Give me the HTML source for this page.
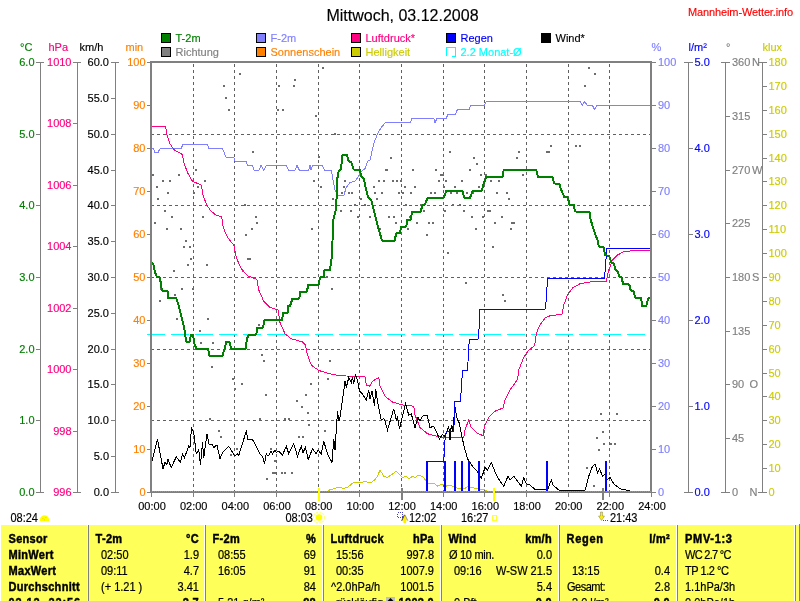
<!DOCTYPE html>
<html lang="de">
<head>
<meta charset="utf-8">
<title>Mannheim-Wetter.info - Mittwoch, 03.12.2008</title>
<style>
html,body{margin:0;padding:0;background:#fff;}
body{width:800px;height:601px;overflow:hidden;position:relative;font-family:'Liberation Sans',Arial,sans-serif;}
#chart{position:absolute;left:0;top:0;display:block;}
#chart text{white-space:pre;stroke-width:0.15px;}
#tbl{position:absolute;left:1px;top:525px;width:798px;height:76px;background:#ffff5a;overflow:hidden;}
#tblr{position:absolute;left:799px;top:524px;width:1px;height:77px;background:#808080;}
#tbl .sep{position:absolute;top:0;width:1px;height:76px;background:#fff;border-right:1px solid #808080;}
#tbl .c{position:absolute;font-size:11px;line-height:16px;height:16px;color:#000;white-space:pre;transform:scaleY(1.125);transform-origin:0 12px;}
#tbl .c{-webkit-text-stroke:0.2px #000;}
#tbl .ic{position:absolute;width:9px;height:9px;background:#c0c0c0;}
#tbl .ic u{position:absolute;left:2px;top:2px;width:5px;height:5px;background:#000;transform:rotate(45deg);}
#tbl .b{font-weight:bold;letter-spacing:0.3px;-webkit-text-stroke:0.4px #000;}
</style>
</head>
<body>
<svg id="chart" width="800" height="601" viewBox="0 0 800 601">
<rect x="0" y="0" width="800" height="601" fill="#fff"/>
<g stroke="#606060" stroke-width="1" stroke-dasharray="3 3" shape-rendering="crispEdges" fill="none">
<line x1="193.5" y1="64" x2="193.5" y2="491"/>
<line x1="234.5" y1="64" x2="234.5" y2="491"/>
<line x1="276.5" y1="64" x2="276.5" y2="491"/>
<line x1="318.5" y1="64" x2="318.5" y2="491"/>
<line x1="359.5" y1="64" x2="359.5" y2="491"/>
<line x1="401.5" y1="64" x2="401.5" y2="491"/>
<line x1="443.5" y1="64" x2="443.5" y2="491"/>
<line x1="484.5" y1="64" x2="484.5" y2="491"/>
<line x1="526.5" y1="64" x2="526.5" y2="491"/>
<line x1="568.5" y1="64" x2="568.5" y2="491"/>
<line x1="609.5" y1="64" x2="609.5" y2="491"/>
<line x1="151" y1="134.5" x2="651" y2="134.5"/>
<line x1="151" y1="205.5" x2="651" y2="205.5"/>
<line x1="151" y1="277.5" x2="651" y2="277.5"/>
<line x1="151" y1="349.5" x2="651" y2="349.5"/>
<line x1="151" y1="420.5" x2="651" y2="420.5"/>
</g>
<g fill="#6c6c6c" shape-rendering="crispEdges">
<rect x="239" y="73" width="2" height="2"/>
<rect x="322" y="67" width="2" height="2"/>
<rect x="223" y="85" width="2" height="2"/>
<rect x="225" y="97" width="2" height="2"/>
<rect x="228" y="109" width="2" height="2"/>
<rect x="278" y="85" width="2" height="2"/>
<rect x="294" y="79" width="2" height="2"/>
<rect x="293" y="85" width="2" height="2"/>
<rect x="277" y="109" width="2" height="2"/>
<rect x="282" y="109" width="2" height="2"/>
<rect x="315" y="115" width="2" height="2"/>
<rect x="334" y="133" width="2" height="2"/>
<rect x="252" y="151" width="2" height="2"/>
<rect x="318" y="156" width="2" height="2"/>
<rect x="195" y="169" width="2" height="2"/>
<rect x="152" y="174" width="2" height="2"/>
<rect x="178" y="174" width="2" height="2"/>
<rect x="162" y="180" width="2" height="2"/>
<rect x="169" y="180" width="2" height="2"/>
<rect x="204" y="180" width="2" height="2"/>
<rect x="313" y="180" width="2" height="2"/>
<rect x="344" y="180" width="2" height="2"/>
<rect x="156" y="186" width="2" height="2"/>
<rect x="197" y="186" width="2" height="2"/>
<rect x="320" y="186" width="2" height="2"/>
<rect x="343" y="186" width="2" height="2"/>
<rect x="167" y="192" width="2" height="2"/>
<rect x="193" y="192" width="2" height="2"/>
<rect x="341" y="192" width="2" height="2"/>
<rect x="348" y="192" width="2" height="2"/>
<rect x="157" y="198" width="2" height="2"/>
<rect x="332" y="198" width="2" height="2"/>
<rect x="244" y="204" width="2" height="2"/>
<rect x="449" y="151" width="2" height="2"/>
<rect x="390" y="157" width="2" height="2"/>
<rect x="473" y="157" width="2" height="2"/>
<rect x="518" y="151" width="2" height="2"/>
<rect x="516" y="157" width="2" height="2"/>
<rect x="476" y="163" width="2" height="2"/>
<rect x="385" y="169" width="2" height="2"/>
<rect x="386" y="169" width="2" height="2"/>
<rect x="412" y="169" width="2" height="2"/>
<rect x="435" y="169" width="2" height="2"/>
<rect x="469" y="169" width="2" height="2"/>
<rect x="440" y="174" width="2" height="2"/>
<rect x="442" y="174" width="2" height="2"/>
<rect x="480" y="174" width="2" height="2"/>
<rect x="485" y="174" width="2" height="2"/>
<rect x="522" y="174" width="2" height="2"/>
<rect x="378" y="180" width="2" height="2"/>
<rect x="383" y="180" width="2" height="2"/>
<rect x="392" y="180" width="2" height="2"/>
<rect x="396" y="180" width="2" height="2"/>
<rect x="400" y="180" width="2" height="2"/>
<rect x="438" y="180" width="2" height="2"/>
<rect x="445" y="180" width="2" height="2"/>
<rect x="461" y="180" width="2" height="2"/>
<rect x="490" y="180" width="2" height="2"/>
<rect x="498" y="180" width="2" height="2"/>
<rect x="373" y="186" width="2" height="2"/>
<rect x="404" y="186" width="2" height="2"/>
<rect x="414" y="186" width="2" height="2"/>
<rect x="443" y="186" width="2" height="2"/>
<rect x="454" y="186" width="2" height="2"/>
<rect x="478" y="186" width="2" height="2"/>
<rect x="351" y="192" width="2" height="2"/>
<rect x="374" y="192" width="2" height="2"/>
<rect x="381" y="192" width="2" height="2"/>
<rect x="398" y="192" width="2" height="2"/>
<rect x="402" y="192" width="2" height="2"/>
<rect x="410" y="192" width="2" height="2"/>
<rect x="430" y="192" width="2" height="2"/>
<rect x="434" y="192" width="2" height="2"/>
<rect x="450" y="192" width="2" height="2"/>
<rect x="456" y="192" width="2" height="2"/>
<rect x="466" y="192" width="2" height="2"/>
<rect x="472" y="192" width="2" height="2"/>
<rect x="496" y="192" width="2" height="2"/>
<rect x="506" y="192" width="2" height="2"/>
<rect x="360" y="198" width="2" height="2"/>
<rect x="376" y="198" width="2" height="2"/>
<rect x="508" y="198" width="2" height="2"/>
<rect x="354" y="204" width="2" height="2"/>
<rect x="364" y="204" width="2" height="2"/>
<rect x="405" y="204" width="2" height="2"/>
<rect x="452" y="204" width="2" height="2"/>
<rect x="459" y="204" width="2" height="2"/>
<rect x="588" y="67" width="2" height="2"/>
<rect x="594" y="73" width="2" height="2"/>
<rect x="584" y="85" width="2" height="2"/>
<rect x="550" y="145" width="2" height="2"/>
<rect x="575" y="145" width="2" height="2"/>
<rect x="579" y="145" width="2" height="2"/>
<rect x="546" y="151" width="2" height="2"/>
<rect x="548" y="151" width="2" height="2"/>
<rect x="164" y="210" width="2" height="2"/>
<rect x="340" y="210" width="2" height="2"/>
<rect x="171" y="216" width="2" height="2"/>
<rect x="202" y="216" width="2" height="2"/>
<rect x="255" y="216" width="2" height="2"/>
<rect x="154" y="222" width="2" height="2"/>
<rect x="256" y="222" width="2" height="2"/>
<rect x="166" y="228" width="2" height="2"/>
<rect x="180" y="228" width="2" height="2"/>
<rect x="251" y="228" width="2" height="2"/>
<rect x="311" y="228" width="2" height="2"/>
<rect x="245" y="234" width="2" height="2"/>
<rect x="185" y="240" width="2" height="2"/>
<rect x="183" y="246" width="2" height="2"/>
<rect x="189" y="246" width="2" height="2"/>
<rect x="190" y="258" width="2" height="2"/>
<rect x="247" y="258" width="2" height="2"/>
<rect x="249" y="258" width="2" height="2"/>
<rect x="187" y="264" width="2" height="2"/>
<rect x="206" y="264" width="2" height="2"/>
<rect x="173" y="270" width="2" height="2"/>
<rect x="242" y="270" width="2" height="2"/>
<rect x="326" y="276" width="2" height="2"/>
<rect x="160" y="288" width="2" height="2"/>
<rect x="181" y="288" width="2" height="2"/>
<rect x="192" y="288" width="2" height="2"/>
<rect x="331" y="288" width="2" height="2"/>
<rect x="174" y="294" width="2" height="2"/>
<rect x="159" y="300" width="2" height="2"/>
<rect x="176" y="318" width="2" height="2"/>
<rect x="207" y="318" width="2" height="2"/>
<rect x="258" y="324" width="2" height="2"/>
<rect x="199" y="330" width="2" height="2"/>
<rect x="200" y="342" width="2" height="2"/>
<rect x="212" y="342" width="2" height="2"/>
<rect x="420" y="204" width="2" height="2"/>
<rect x="350" y="210" width="2" height="2"/>
<rect x="423" y="210" width="2" height="2"/>
<rect x="444" y="210" width="2" height="2"/>
<rect x="463" y="210" width="2" height="2"/>
<rect x="487" y="210" width="2" height="2"/>
<rect x="489" y="210" width="2" height="2"/>
<rect x="357" y="216" width="2" height="2"/>
<rect x="369" y="216" width="2" height="2"/>
<rect x="388" y="216" width="2" height="2"/>
<rect x="393" y="216" width="2" height="2"/>
<rect x="409" y="216" width="2" height="2"/>
<rect x="471" y="216" width="2" height="2"/>
<rect x="482" y="216" width="2" height="2"/>
<rect x="501" y="216" width="2" height="2"/>
<rect x="395" y="222" width="2" height="2"/>
<rect x="416" y="222" width="2" height="2"/>
<rect x="428" y="222" width="2" height="2"/>
<rect x="432" y="222" width="2" height="2"/>
<rect x="494" y="222" width="2" height="2"/>
<rect x="511" y="222" width="2" height="2"/>
<rect x="513" y="222" width="2" height="2"/>
<rect x="379" y="228" width="2" height="2"/>
<rect x="407" y="228" width="2" height="2"/>
<rect x="475" y="228" width="2" height="2"/>
<rect x="510" y="228" width="2" height="2"/>
<rect x="426" y="234" width="2" height="2"/>
<rect x="492" y="246" width="2" height="2"/>
<rect x="447" y="252" width="2" height="2"/>
<rect x="465" y="282" width="2" height="2"/>
<rect x="502" y="294" width="2" height="2"/>
<rect x="504" y="300" width="2" height="2"/>
<rect x="261" y="354" width="2" height="2"/>
<rect x="263" y="360" width="2" height="2"/>
<rect x="329" y="360" width="2" height="2"/>
<rect x="211" y="366" width="2" height="2"/>
<rect x="232" y="378" width="2" height="2"/>
<rect x="327" y="378" width="2" height="2"/>
<rect x="241" y="383" width="2" height="2"/>
<rect x="310" y="383" width="2" height="2"/>
<rect x="234" y="388" width="2" height="2"/>
<rect x="265" y="394" width="2" height="2"/>
<rect x="305" y="394" width="2" height="2"/>
<rect x="296" y="400" width="2" height="2"/>
<rect x="301" y="406" width="2" height="2"/>
<rect x="307" y="412" width="2" height="2"/>
<rect x="209" y="418" width="2" height="2"/>
<rect x="259" y="418" width="2" height="2"/>
<rect x="284" y="418" width="2" height="2"/>
<rect x="288" y="418" width="2" height="2"/>
<rect x="308" y="424" width="2" height="2"/>
<rect x="218" y="430" width="2" height="2"/>
<rect x="324" y="430" width="2" height="2"/>
<rect x="220" y="436" width="2" height="2"/>
<rect x="298" y="436" width="2" height="2"/>
<rect x="302" y="436" width="2" height="2"/>
<rect x="193" y="442" width="2" height="2"/>
<rect x="236" y="448" width="2" height="2"/>
<rect x="270" y="448" width="2" height="2"/>
<rect x="230" y="454" width="2" height="2"/>
<rect x="274" y="460" width="2" height="2"/>
<rect x="272" y="472" width="2" height="2"/>
<rect x="274" y="472" width="2" height="2"/>
<rect x="281" y="472" width="2" height="2"/>
<rect x="284" y="472" width="2" height="2"/>
<rect x="291" y="472" width="2" height="2"/>
<rect x="266" y="478" width="2" height="2"/>
<rect x="600" y="413" width="2" height="2"/>
<rect x="616" y="413" width="2" height="2"/>
<rect x="602" y="431" width="2" height="2"/>
<rect x="596" y="437" width="2" height="2"/>
<rect x="603" y="443" width="2" height="2"/>
<rect x="610" y="443" width="2" height="2"/>
<rect x="614" y="443" width="2" height="2"/>
<rect x="598" y="449" width="2" height="2"/>
<rect x="586" y="467" width="2" height="2"/>
<rect x="593" y="485" width="2" height="2"/>
<rect x="602" y="488" width="2" height="2"/>
</g>
<line x1="146.5" y1="334.5" x2="645" y2="334.5" stroke="#00ffff" stroke-width="1" stroke-dasharray="18 6" shape-rendering="crispEdges"/>
<polyline points="322.00,491.00 328.00,491.00 330.00,489.75 338.75,487.25 343.75,488.50 348.00,487.00 353.75,482.25 358.75,483.00 365.00,481.50 370.60,483.00 375.00,479.50 377.50,476.25 380.00,470.00 383.75,476.25 387.50,477.50 396.25,471.25 402.50,477.50 406.25,476.25 408.75,478.75 412.50,476.25 415.00,477.50 418.75,475.00 420.00,475.20 423.50,477.40 426.00,480.90 428.30,483.00 434.00,483.00 437.50,486.10 440.00,485.00 443.20,484.40 446.20,486.10 449.70,485.00 453.20,486.50 456.70,488.00 465.50,488.00 468.00,486.30 471.60,487.70 476.00,488.30 480.40,489.20 484.70,489.60 486.50,491.00 494.00,491.00" fill="none" stroke="#cccc00" stroke-width="1" shape-rendering="crispEdges"/>
<polyline points="152.00,148.50 153.50,148.50 155.00,152.50 158.00,152.50 160.00,148.75 181.00,148.75 183.00,144.25 207.50,144.25 209.00,148.75 222.50,148.75 226.00,157.00 233.75,157.00 235.00,161.25 246.00,161.25 247.50,165.50 252.50,165.50 254.00,170.00 259.00,170.00 261.00,165.50 263.75,170.00 266.25,165.50 286.25,165.50 288.75,170.00 295.00,170.00 297.00,165.50 299.25,170.00 308.75,170.00 310.00,165.50 311.00,170.00 312.50,165.50 322.50,165.50 324.25,170.00 331.25,170.00 333.00,180.00 335.00,190.00 337.50,195.50 343.75,195.50 346.25,187.50 350.00,182.50 355.00,181.25 358.75,176.25 360.00,172.50 365.00,168.75 367.50,161.25 370.00,160.00 373.75,143.75 377.50,133.75 381.25,127.50 385.50,122.50 410.75,122.50 411.75,118.50 433.75,118.50 435.00,122.50 437.00,118.50 446.25,118.50 448.00,114.00 455.50,114.00 457.50,109.50 469.50,109.50 470.50,105.50 484.50,105.50 486.25,101.50 580.00,101.50 582.50,105.50 584.25,101.50 587.50,105.50 592.50,105.50 594.50,109.50 597.00,105.50 651.00,105.50" fill="none" stroke="#8080ff" stroke-width="1" shape-rendering="crispEdges"/>
<polyline points="152.00,126.25 165.50,126.25 167.00,135.00 170.00,143.75 174.25,150.00 182.50,154.50 183.75,162.50 187.50,172.50 192.50,181.25 201.25,185.00 203.00,195.00 206.25,203.75 210.00,210.00 215.00,214.50 221.75,217.00 223.25,227.50 227.50,237.50 233.75,245.00 236.25,257.50 241.25,268.75 247.50,275.75 257.00,279.50 258.75,290.00 263.75,301.25 270.00,307.50 278.00,310.00 280.00,322.50 285.00,333.75 291.25,338.75 302.50,342.00 305.50,345.00 307.50,355.00 311.25,365.00 318.75,370.50 330.00,373.75 340.00,375.75 365.00,376.75 366.25,385.00 369.50,386.25 372.50,381.25 378.75,377.50 380.00,386.25 385.00,396.25 392.50,402.00 402.50,405.00 413.75,406.25 415.00,415.00 420.00,427.50 427.50,433.75 440.00,437.00 463.75,437.50 465.00,430.00 468.75,420.00 471.25,427.50 476.25,432.50 483.00,435.75 484.50,426.25 488.75,417.50 495.00,411.25 503.00,408.00 505.00,400.00 510.00,390.00 517.50,379.50 518.75,370.00 523.75,357.50 528.75,350.00 533.75,346.50 535.00,343.00 536.25,334.00 538.75,327.50 540.00,325.00 545.00,318.00 550.00,315.75 562.00,314.25 563.75,305.00 567.50,295.00 572.50,288.00 580.00,283.75 590.00,282.00 606.25,281.25 608.75,270.00 612.50,260.00 617.50,255.00 623.75,251.75 635.00,250.50 650.00,250.25" fill="none" stroke="#ff0080" stroke-width="1" shape-rendering="crispEdges"/>
<polyline points="152.00,461.25 157.50,439.50 163.00,468.75 165.00,462.50 167.00,464.50 168.00,459.50 171.25,467.50 176.25,456.75 180.50,462.50 182.50,453.75 184.50,457.50 188.75,446.25 190.00,447.50 191.50,427.50 193.75,432.50 196.25,453.75 198.75,450.00 200.50,465.00 202.50,442.50 203.75,457.50 207.00,433.75 209.25,445.00 212.00,444.50 213.75,447.50 217.00,445.00 220.00,458.75 222.50,452.50 225.00,450.00 228.75,446.25 235.00,456.25 237.50,453.75 238.75,455.50 246.25,431.25 248.00,439.50 252.50,439.50 256.25,446.25 260.00,453.75 262.50,456.25 264.50,463.75 266.25,453.75 268.00,456.25 271.25,451.25 272.50,453.75 275.00,450.00 276.25,452.50 278.75,451.25 282.50,455.00 286.25,446.25 288.75,453.75 293.75,443.75 297.50,456.25 301.25,446.25 303.00,452.50 305.50,447.50 308.25,459.50 312.50,448.75 316.25,453.75 318.00,450.00 321.25,453.75 323.75,441.25 327.50,453.75 332.00,462.50 333.75,438.75 335.00,450.00 337.50,411.25 338.75,421.25 340.00,417.50 342.50,400.00 345.00,381.25 346.25,387.50 348.75,377.50 351.25,382.50 352.50,377.50 353.75,383.75 355.50,375.00 357.50,380.00 359.50,391.25 361.25,392.50 366.25,400.00 368.75,390.00 370.00,398.75 372.00,391.25 374.50,406.25 375.75,388.75 377.50,401.25 381.25,420.00 383.75,418.75 385.00,421.25 387.50,430.00 393.75,408.75 396.25,420.00 397.50,417.50 399.50,428.75 405.50,403.75 408.75,415.00 411.25,413.75 415.00,427.50 418.00,417.50 420.00,421.25 422.50,416.25 427.00,415.00 430.00,427.50 433.75,426.25 439.50,438.75 442.50,434.50 445.00,436.25 448.75,426.25 450.00,440.00 451.25,425.00 452.50,431.25 455.00,407.50 457.50,420.00 458.75,421.25 463.75,445.00 467.50,458.75 470.00,462.50 472.50,466.25 476.25,470.00 478.75,473.75 481.25,478.75 485.00,467.50 487.50,470.00 491.25,462.50 496.25,475.00 500.00,481.25 503.75,486.25 508.00,476.25 510.00,480.00 513.75,476.25 521.25,486.25 523.75,477.50 526.25,483.75 530.00,485.00 535.00,489.50 547.50,490.00 551.25,480.00 553.00,485.00 558.75,490.00 585.00,490.50 588.75,476.25 592.50,466.25 595.00,463.75 597.50,472.50 599.50,468.75 602.50,476.25 605.00,473.75 607.00,480.00 610.00,477.50 613.75,483.75 620.00,488.75 630.00,491.00 651.00,491.00" fill="none" stroke="#000" stroke-width="1" shape-rendering="crispEdges"/>
<g stroke="#0000ff" stroke-width="2" fill="none" shape-rendering="crispEdges">
<line x1="426" y1="461.5" x2="446" y2="461.5" stroke-width="1"/>
<line x1="427" y1="461" x2="427" y2="492"/>
<line x1="445" y1="461" x2="445" y2="492"/>
<line x1="455" y1="461" x2="455" y2="492"/>
<line x1="462" y1="461" x2="462" y2="492"/>
<line x1="469" y1="461" x2="469" y2="492"/>
<line x1="479" y1="461" x2="479" y2="492"/>
<line x1="547" y1="461" x2="547" y2="492"/>
<line x1="606" y1="461" x2="606" y2="492"/>
</g>
<polyline points="443.60,461.00 444.50,452.00 445.00,440.00 446.25,431.50 453.75,431.50 455.00,401.00 460.50,401.00 462.50,371.00 467.50,370.50 469.25,339.50 478.00,339.50 479.50,323.75 480.00,309.50 545.00,309.50 546.25,300.00 547.50,278.50 604.50,278.50 605.75,262.50 606.75,248.50 651.00,248.50" fill="none" stroke="#0000ff" stroke-width="1" shape-rendering="crispEdges"/>
<polyline points="152.00,262.70 153.50,265.00 155.00,272.50 157.00,277.00 160.00,277.50 161.25,287.50 162.50,291.00 167.50,291.25 168.25,298.00 176.25,298.00 178.75,305.50 181.25,316.25 183.00,323.00 184.50,330.00 186.25,341.50 190.00,341.50 190.75,334.50 193.00,334.50 194.50,343.75 196.25,348.75 208.00,348.75 209.50,355.50 222.50,355.50 224.50,348.75 226.25,342.00 229.50,342.00 231.25,348.75 245.50,348.75 247.00,338.75 248.75,334.50 256.25,334.50 257.50,327.50 263.00,327.50 264.50,320.25 282.00,320.25 283.25,313.00 287.50,313.00 288.25,306.00 290.00,306.00 292.50,298.50 299.25,298.50 300.50,291.50 307.00,291.50 308.25,284.50 318.75,284.50 320.00,277.50 323.75,277.00 324.50,270.00 330.00,270.00 332.00,255.00 333.25,220.00 335.50,211.25 336.25,205.00 337.50,177.50 338.75,171.00 341.25,169.00 342.00,156.00 342.50,155.00 347.00,155.00 348.75,161.50 351.25,162.00 353.75,169.50 360.00,170.00 361.25,176.50 363.75,178.75 366.25,190.00 368.25,197.50 370.00,198.75 371.25,200.00 373.75,210.00 377.50,225.00 382.00,240.50 394.50,240.50 396.25,233.50 400.00,233.00 401.25,226.50 406.25,226.50 407.50,219.50 410.75,219.50 412.00,212.00 420.50,212.00 422.50,205.00 425.00,204.50 427.50,198.00 443.75,197.50 446.25,191.00 462.50,190.75 464.25,197.50 470.00,198.00 472.50,191.00 482.00,190.50 483.50,184.00 486.25,177.00 502.50,176.75 503.75,170.00 536.25,170.00 538.00,176.75 552.50,176.75 554.25,183.50 559.25,183.75 561.25,190.00 564.25,197.00 568.00,197.50 569.25,204.50 573.75,205.00 575.00,211.50 589.50,211.75 590.50,218.75 592.50,226.25 595.00,233.75 597.50,240.00 598.75,246.50 603.75,247.50 605.00,255.00 609.25,256.00 611.25,262.50 613.75,263.50 615.50,270.00 617.50,271.00 619.50,276.50 621.75,277.50 623.00,284.00 629.25,284.50 630.75,290.50 633.75,291.25 635.00,297.50 641.25,298.00 642.00,305.75 646.25,305.75 648.00,298.75 650.00,297.50" fill="none" stroke="#008000" stroke-width="2" stroke-linejoin="round" shape-rendering="crispEdges"/>
<g stroke="#808080" fill="none" shape-rendering="crispEdges">
<rect x="151" y="62" width="500" height="430" stroke-width="2"/>
</g>
<line x1="152" y1="491.5" x2="651" y2="491.5" stroke="#ff8000" stroke-width="1" stroke-dasharray="1 1" shape-rendering="crispEdges"/>
<g stroke="#808080" stroke-width="1" shape-rendering="crispEdges">
<line x1="151.5" y1="492" x2="151.5" y2="497"/>
<line x1="193.5" y1="492" x2="193.5" y2="497"/>
<line x1="234.5" y1="492" x2="234.5" y2="497"/>
<line x1="276.5" y1="492" x2="276.5" y2="497"/>
<line x1="318.5" y1="492" x2="318.5" y2="497"/>
<line x1="359.5" y1="492" x2="359.5" y2="497"/>
<line x1="401.5" y1="492" x2="401.5" y2="497"/>
<line x1="443.5" y1="492" x2="443.5" y2="497"/>
<line x1="484.5" y1="492" x2="484.5" y2="497"/>
<line x1="526.5" y1="492" x2="526.5" y2="497"/>
<line x1="568.5" y1="492" x2="568.5" y2="497"/>
<line x1="609.5" y1="492" x2="609.5" y2="497"/>
<line x1="651.5" y1="492" x2="651.5" y2="497"/>
</g>
<g stroke="#808080" stroke-width="2" shape-rendering="crispEdges">
<line x1="402" y1="488" x2="402" y2="500"/>
<line x1="603" y1="488" x2="603" y2="500"/>
</g>
<g stroke="#ffff00" stroke-width="2" shape-rendering="crispEdges">
<line x1="319" y1="488" x2="319" y2="501"/>
<line x1="494" y1="488" x2="494" y2="501"/>
</g>
<g font-family="'Liberation Sans', Arial, sans-serif" font-size="11px">
<g stroke="#808080" stroke-width="1" shape-rendering="crispEdges">
<line x1="40.5" y1="62" x2="40.5" y2="493"/>
<line x1="36.0" y1="62.5" x2="44.0" y2="62.5"/>
<line x1="36.0" y1="134.5" x2="41.0" y2="134.5"/>
<line x1="36.0" y1="205.5" x2="41.0" y2="205.5"/>
<line x1="36.0" y1="277.5" x2="41.0" y2="277.5"/>
<line x1="36.0" y1="349.5" x2="41.0" y2="349.5"/>
<line x1="36.0" y1="420.5" x2="41.0" y2="420.5"/>
<line x1="36.0" y1="492.5" x2="44.0" y2="492.5"/>
</g>
<g fill="#008000" text-anchor="end" stroke="#008000">
<text x="34.5" y="66.0">6.0</text>
<text x="34.5" y="138.0">5.0</text>
<text x="34.5" y="209.0">4.0</text>
<text x="34.5" y="281.0">3.0</text>
<text x="34.5" y="353.0">2.0</text>
<text x="34.5" y="424.0">1.0</text>
<text x="34.5" y="496.0">0.0</text>
</g>
<g stroke="#808080" stroke-width="1" shape-rendering="crispEdges">
<line x1="77.5" y1="62" x2="77.5" y2="493"/>
<line x1="73.0" y1="62.5" x2="81.0" y2="62.5"/>
<line x1="73.0" y1="123.5" x2="78.0" y2="123.5"/>
<line x1="73.0" y1="185.5" x2="78.0" y2="185.5"/>
<line x1="73.0" y1="246.5" x2="78.0" y2="246.5"/>
<line x1="73.0" y1="308.5" x2="78.0" y2="308.5"/>
<line x1="73.0" y1="369.5" x2="78.0" y2="369.5"/>
<line x1="73.0" y1="431.5" x2="78.0" y2="431.5"/>
<line x1="73.0" y1="492.5" x2="81.0" y2="492.5"/>
</g>
<g fill="#ff0080" text-anchor="end" stroke="#ff0080">
<text x="71.5" y="66.0">1010</text>
<text x="71.5" y="127.0">1008</text>
<text x="71.5" y="189.0">1006</text>
<text x="71.5" y="250.0">1004</text>
<text x="71.5" y="312.0">1002</text>
<text x="71.5" y="373.0">1000</text>
<text x="71.5" y="435.0">998</text>
<text x="71.5" y="496.0">996</text>
</g>
<g stroke="#808080" stroke-width="1" shape-rendering="crispEdges">
<line x1="115.5" y1="62" x2="115.5" y2="493"/>
<line x1="111.0" y1="62.5" x2="119.0" y2="62.5"/>
<line x1="111.0" y1="98.5" x2="116.0" y2="98.5"/>
<line x1="111.0" y1="134.5" x2="116.0" y2="134.5"/>
<line x1="111.0" y1="170.5" x2="116.0" y2="170.5"/>
<line x1="111.0" y1="205.5" x2="116.0" y2="205.5"/>
<line x1="111.0" y1="241.5" x2="116.0" y2="241.5"/>
<line x1="111.0" y1="277.5" x2="116.0" y2="277.5"/>
<line x1="111.0" y1="313.5" x2="116.0" y2="313.5"/>
<line x1="111.0" y1="349.5" x2="116.0" y2="349.5"/>
<line x1="111.0" y1="384.5" x2="116.0" y2="384.5"/>
<line x1="111.0" y1="420.5" x2="116.0" y2="420.5"/>
<line x1="111.0" y1="456.5" x2="116.0" y2="456.5"/>
<line x1="111.0" y1="492.5" x2="119.0" y2="492.5"/>
</g>
<g fill="#000" text-anchor="end" stroke="#000">
<text x="109.0" y="66.0">60.0</text>
<text x="109.0" y="102.0">55.0</text>
<text x="109.0" y="138.0">50.0</text>
<text x="109.0" y="174.0">45.0</text>
<text x="109.0" y="209.0">40.0</text>
<text x="109.0" y="245.0">35.0</text>
<text x="109.0" y="281.0">30.0</text>
<text x="109.0" y="317.0">25.0</text>
<text x="109.0" y="353.0">20.0</text>
<text x="109.0" y="388.0">15.0</text>
<text x="109.0" y="424.0">10.0</text>
<text x="109.0" y="460.0">5.0</text>
<text x="109.0" y="496.0">0.0</text>
</g>
<g stroke="#808080" stroke-width="1" shape-rendering="crispEdges">
<line x1="147.0" y1="62.5" x2="151.0" y2="62.5"/>
<line x1="147.0" y1="105.5" x2="151.0" y2="105.5"/>
<line x1="147.0" y1="148.5" x2="151.0" y2="148.5"/>
<line x1="147.0" y1="191.5" x2="151.0" y2="191.5"/>
<line x1="147.0" y1="234.5" x2="151.0" y2="234.5"/>
<line x1="147.0" y1="277.5" x2="151.0" y2="277.5"/>
<line x1="147.0" y1="320.5" x2="151.0" y2="320.5"/>
<line x1="147.0" y1="363.5" x2="151.0" y2="363.5"/>
<line x1="147.0" y1="406.5" x2="151.0" y2="406.5"/>
<line x1="147.0" y1="449.5" x2="151.0" y2="449.5"/>
<line x1="147.0" y1="492.5" x2="151.0" y2="492.5"/>
</g>
<g fill="#ff8000" text-anchor="end" stroke="#ff8000">
<text x="145.5" y="66.0">100</text>
<text x="145.5" y="109.0">90</text>
<text x="145.5" y="152.0">80</text>
<text x="145.5" y="195.0">70</text>
<text x="145.5" y="238.0">60</text>
<text x="145.5" y="281.0">50</text>
<text x="145.5" y="324.0">40</text>
<text x="145.5" y="367.0">30</text>
<text x="145.5" y="410.0">20</text>
<text x="145.5" y="453.0">10</text>
<text x="145.5" y="496.0">0</text>
</g>
<g stroke="#808080" stroke-width="1" shape-rendering="crispEdges">
<line x1="652.0" y1="62.5" x2="656.0" y2="62.5"/>
<line x1="652.0" y1="105.5" x2="656.0" y2="105.5"/>
<line x1="652.0" y1="148.5" x2="656.0" y2="148.5"/>
<line x1="652.0" y1="191.5" x2="656.0" y2="191.5"/>
<line x1="652.0" y1="234.5" x2="656.0" y2="234.5"/>
<line x1="652.0" y1="277.5" x2="656.0" y2="277.5"/>
<line x1="652.0" y1="320.5" x2="656.0" y2="320.5"/>
<line x1="652.0" y1="363.5" x2="656.0" y2="363.5"/>
<line x1="652.0" y1="406.5" x2="656.0" y2="406.5"/>
<line x1="652.0" y1="449.5" x2="656.0" y2="449.5"/>
<line x1="652.0" y1="492.5" x2="656.0" y2="492.5"/>
</g>
<g fill="#8080ff" text-anchor="start" stroke="#8080ff">
<text x="658.0" y="66.0">100</text>
<text x="658.0" y="109.0">90</text>
<text x="658.0" y="152.0">80</text>
<text x="658.0" y="195.0">70</text>
<text x="658.0" y="238.0">60</text>
<text x="658.0" y="281.0">50</text>
<text x="658.0" y="324.0">40</text>
<text x="658.0" y="367.0">30</text>
<text x="658.0" y="410.0">20</text>
<text x="658.0" y="453.0">10</text>
<text x="658.0" y="496.0">0</text>
</g>
<g stroke="#808080" stroke-width="1" shape-rendering="crispEdges">
<line x1="688.5" y1="62" x2="688.5" y2="493"/>
<line x1="684.0" y1="62.5" x2="693.0" y2="62.5"/>
<line x1="688.0" y1="148.5" x2="693.0" y2="148.5"/>
<line x1="688.0" y1="234.5" x2="693.0" y2="234.5"/>
<line x1="688.0" y1="320.5" x2="693.0" y2="320.5"/>
<line x1="688.0" y1="406.5" x2="693.0" y2="406.5"/>
<line x1="684.0" y1="492.5" x2="693.0" y2="492.5"/>
</g>
<g fill="#0000ff" text-anchor="start" stroke="#0000ff">
<text x="694.5" y="66.0">5.0</text>
<text x="694.5" y="152.0">4.0</text>
<text x="694.5" y="238.0">3.0</text>
<text x="694.5" y="324.0">2.0</text>
<text x="694.5" y="410.0">1.0</text>
<text x="694.5" y="496.0">0.0</text>
</g>
<g stroke="#808080" stroke-width="1" shape-rendering="crispEdges">
<line x1="725.5" y1="62" x2="725.5" y2="493"/>
<line x1="721.0" y1="62.5" x2="730.0" y2="62.5"/>
<line x1="725.0" y1="116.5" x2="730.0" y2="116.5"/>
<line x1="725.0" y1="170.5" x2="730.0" y2="170.5"/>
<line x1="725.0" y1="223.5" x2="730.0" y2="223.5"/>
<line x1="725.0" y1="277.5" x2="730.0" y2="277.5"/>
<line x1="725.0" y1="331.5" x2="730.0" y2="331.5"/>
<line x1="725.0" y1="384.5" x2="730.0" y2="384.5"/>
<line x1="725.0" y1="438.5" x2="730.0" y2="438.5"/>
<line x1="721.0" y1="492.5" x2="730.0" y2="492.5"/>
</g>
<g fill="#808080" text-anchor="start" stroke="#808080">
<text x="732.0" y="66.0">360</text>
<text x="732.0" y="120.0">315</text>
<text x="732.0" y="174.0">270</text>
<text x="732.0" y="227.0">225</text>
<text x="732.0" y="281.0">180</text>
<text x="732.0" y="335.0">135</text>
<text x="732.0" y="388.0">90</text>
<text x="732.0" y="442.0">45</text>
<text x="732.0" y="496.0">0</text>
</g>
<g stroke="#808080" stroke-width="1" shape-rendering="crispEdges">
<line x1="762.5" y1="62" x2="762.5" y2="493"/>
<line x1="758.0" y1="62.5" x2="767.0" y2="62.5"/>
<line x1="762.0" y1="86.5" x2="767.0" y2="86.5"/>
<line x1="762.0" y1="110.5" x2="767.0" y2="110.5"/>
<line x1="762.0" y1="134.5" x2="767.0" y2="134.5"/>
<line x1="762.0" y1="158.5" x2="767.0" y2="158.5"/>
<line x1="762.0" y1="181.5" x2="767.0" y2="181.5"/>
<line x1="762.0" y1="205.5" x2="767.0" y2="205.5"/>
<line x1="762.0" y1="229.5" x2="767.0" y2="229.5"/>
<line x1="762.0" y1="253.5" x2="767.0" y2="253.5"/>
<line x1="762.0" y1="277.5" x2="767.0" y2="277.5"/>
<line x1="762.0" y1="301.5" x2="767.0" y2="301.5"/>
<line x1="762.0" y1="325.5" x2="767.0" y2="325.5"/>
<line x1="762.0" y1="349.5" x2="767.0" y2="349.5"/>
<line x1="762.0" y1="373.5" x2="767.0" y2="373.5"/>
<line x1="762.0" y1="396.5" x2="767.0" y2="396.5"/>
<line x1="762.0" y1="420.5" x2="767.0" y2="420.5"/>
<line x1="762.0" y1="444.5" x2="767.0" y2="444.5"/>
<line x1="762.0" y1="468.5" x2="767.0" y2="468.5"/>
<line x1="758.0" y1="492.5" x2="767.0" y2="492.5"/>
</g>
<g fill="#cccc00" text-anchor="start" stroke="#cccc00">
<text x="768.5" y="66.0">180</text>
<text x="768.5" y="90.0">170</text>
<text x="768.5" y="114.0">160</text>
<text x="768.5" y="138.0">150</text>
<text x="768.5" y="162.0">140</text>
<text x="768.5" y="185.0">130</text>
<text x="768.5" y="209.0">120</text>
<text x="768.5" y="233.0">110</text>
<text x="768.5" y="257.0">100</text>
<text x="768.5" y="281.0">90</text>
<text x="768.5" y="305.0">80</text>
<text x="768.5" y="329.0">70</text>
<text x="768.5" y="353.0">60</text>
<text x="768.5" y="377.0">50</text>
<text x="768.5" y="400.0">40</text>
<text x="768.5" y="424.0">30</text>
<text x="768.5" y="448.0">20</text>
<text x="768.5" y="472.0">10</text>
<text x="768.5" y="496.0">0</text>
</g>
<g fill="#808080" stroke="#808080">
<text x="752" y="66.0">N</text>
<text x="752" y="174.0">W</text>
<text x="752" y="281.0">S</text>
<text x="749.5" y="388.0">O</text>
<text x="749.5" y="496.0">N</text>
</g>
<text x="20" y="51" fill="#008000" stroke="#008000">°C</text>
<text x="48.5" y="51" fill="#ff0080" stroke="#ff0080">hPa</text>
<text x="79.5" y="51" fill="#000" stroke="#000">km/h</text>
<text x="125.5" y="51" fill="#ff8000" stroke="#ff8000">min</text>
<text x="651.5" y="51" fill="#8080ff" stroke="#8080ff">%</text>
<text x="688.5" y="51" fill="#0000ff" stroke="#0000ff">l/m²</text>
<text x="726" y="51" fill="#808080" stroke="#808080">°</text>
<text x="762.5" y="51" fill="#cccc00" stroke="#cccc00">klux</text>
<rect x="161.5" y="33.5" width="9" height="9" fill="#008000" stroke="#000" stroke-width="1" shape-rendering="crispEdges"/>
<text x="175.5" y="42.0" fill="#008000" stroke="#008000">T-2m</text>
<rect x="161.5" y="47.5" width="9" height="9" fill="#808080" stroke="#000" stroke-width="1" shape-rendering="crispEdges"/>
<text x="175.5" y="56.0" fill="#808080" stroke="#808080">Richtung</text>
<rect x="256.5" y="33.5" width="9" height="9" fill="#8080ff" stroke="#000" stroke-width="1" shape-rendering="crispEdges"/>
<text x="270.5" y="42.0" fill="#8080ff" stroke="#8080ff">F-2m</text>
<rect x="256.5" y="47.5" width="9" height="9" fill="#ff8000" stroke="#000" stroke-width="1" shape-rendering="crispEdges"/>
<text x="270.5" y="56.0" fill="#ff8000" stroke="#ff8000">Sonnenschein</text>
<rect x="351.5" y="33.5" width="9" height="9" fill="#ff0080" stroke="#000" stroke-width="1" shape-rendering="crispEdges"/>
<text x="365.5" y="42.0" fill="#ff0080" stroke="#ff0080">Luftdruck*</text>
<rect x="351.5" y="47.5" width="9" height="9" fill="#cccc00" stroke="#000" stroke-width="1" shape-rendering="crispEdges"/>
<text x="365.5" y="56.0" fill="#cccc00" stroke="#cccc00">Helligkeit</text>
<rect x="446.5" y="33.5" width="9" height="9" fill="#0000ff" stroke="#000" stroke-width="1" shape-rendering="crispEdges"/>
<text x="460.5" y="42.0" fill="#0000ff" stroke="#0000ff">Regen</text>
<rect x="541.5" y="33.5" width="9" height="9" fill="#000000" stroke="#000" stroke-width="1" shape-rendering="crispEdges"/>
<text x="555.5" y="42.0" fill="#000000" stroke="#000000">Wind*</text>
<path d="M446.5,56 V47.5 H455.5 V56.5 H452" fill="none" stroke="#00ffff" stroke-width="1" shape-rendering="crispEdges"/>
<text x="460.5" y="56" fill="#00ffff" stroke="#00ffff">2.2 Monat-Ø</text>
<g fill="#000" text-anchor="middle" stroke="#000">
<text x="152.0" y="510">00:00</text>
<text x="193.7" y="510">02:00</text>
<text x="235.3" y="510">04:00</text>
<text x="277.0" y="510">06:00</text>
<text x="318.7" y="510">08:00</text>
<text x="360.3" y="510">10:00</text>
<text x="402.0" y="510">12:00</text>
<text x="443.7" y="510">14:00</text>
<text x="485.3" y="510">16:00</text>
<text x="527.0" y="510">18:00</text>
<text x="568.7" y="510">20:00</text>
<text x="610.3" y="510">22:00</text>
<text x="652.0" y="510">24:00</text>
</g>
<text transform="translate(10.5,522) scale(1,1.125)" fill="#000" stroke="#000">08:24</text>
<text transform="translate(285.5,522) scale(1,1.125)" fill="#000" stroke="#000">08:03</text>
<text transform="translate(409,522) scale(1,1.125)" fill="#000" stroke="#000">12:02</text>
<text transform="translate(461,522) scale(1,1.125)" fill="#000" stroke="#000">16:27</text>
<text transform="translate(610,522) scale(1,1.125)" fill="#000" stroke="#000">21:43</text>
<text x="688" y="15.5" fill="#ff0000" stroke="#ff0000" letter-spacing="-0.12">Mannheim-Wetter.info</text>
</g>
<text x="402.5" y="20.5" text-anchor="middle" font-family="'Liberation Sans', Arial, sans-serif" font-size="16px" fill="#000" stroke="#000">Mittwoch, 03.12.2008</text>
<path d="M40,521 L40,519 C41,514 48,514 49,519 L49,521 Z" fill="#ffff00"/>
<g fill="#ffb000"><rect x="42.5" y="518" width="0.8" height="0.8"/><rect x="45.5" y="517" width="0.8" height="0.8"/><rect x="44" y="519.5" width="0.8" height="0.8"/></g>
<circle cx="319" cy="517.5" r="5.5" fill="none" stroke="#ffff80" stroke-width="1.2" stroke-dasharray="2 1.2"/>
<circle cx="319" cy="517.5" r="3.3" fill="#ffff00"/>
<rect x="397.5" y="512.5" width="5" height="5" fill="none" stroke="#4040c0" stroke-width="1" stroke-dasharray="1 1" shape-rendering="crispEdges"/>
<path d="M404.7,514.5 L407.7,520.5 L406,520.5 L406,523 L403.4,523 L403.4,520.5 L401.7,520.5 Z" fill="#ffee00"/>
<path d="M401.7,520.8 L404.5,514.8" fill="none" stroke="#222" stroke-width="0.9"/>
<path d="M405,515 L407.8,520.6" fill="none" stroke="#5050d0" stroke-width="0.6"/>
<rect x="492.5" y="515.5" width="4" height="5" fill="none" stroke="#ffff33" stroke-width="1" shape-rendering="crispEdges"/>
<path d="M600.5,512 L602.5,512 L602.5,516 L604.5,516 L601.5,520.5 L598.5,516 L600.5,516 Z" fill="#ffee00" stroke="#666" stroke-width="0.4"/>
<line x1="603" y1="520.5" x2="608" y2="520.5" stroke="#4040c0" stroke-width="1" stroke-dasharray="1 1" shape-rendering="crispEdges"/>
</svg>
<div id="tbl">
<i class="sep" style="left:86px"></i>
<i class="sep" style="left:203px"></i>
<i class="sep" style="left:321px"></i>
<i class="sep" style="left:439px"></i>
<i class="sep" style="left:557px"></i>
<i class="sep" style="left:675px"></i>
<i class="sep" style="left:793px"></i>
<span class="c b" style="top:6px;left:7.5px;">Sensor</span>
<span class="c b" style="top:22px;left:7.5px;">MinWert</span>
<span class="c b" style="top:38px;left:7.5px;">MaxWert</span>
<span class="c b" style="top:54px;left:7.5px;">Durchschnitt</span>
<span class="c b" style="top:70px;left:7.5px;letter-spacing:0.90px;">03.12. 22:56</span>
<span class="c b" style="top:6px;left:94.5px;">T-2m</span>
<span class="c b" style="top:6px;right:600px;">°C</span>
<span class="c " style="top:22px;left:100.0px;">02:50</span>
<span class="c " style="top:22px;right:600px;">1.9</span>
<span class="c " style="top:38px;left:100.0px;">09:11</span>
<span class="c " style="top:38px;right:600px;">4.7</span>
<span class="c " style="top:54px;left:100.0px;">(+ 1.21 )</span>
<span class="c " style="top:54px;right:600px;">3.41</span>
<span class="c b" style="top:70px;right:600px;">3.7</span>
<span class="c b" style="top:6px;left:211.5px;">F-2m</span>
<span class="c b" style="top:6px;right:483px;">%</span>
<span class="c " style="top:22px;left:217.0px;">08:55</span>
<span class="c " style="top:22px;right:483px;">69</span>
<span class="c " style="top:38px;left:217.0px;">16:05</span>
<span class="c " style="top:38px;right:483px;">91</span>
<span class="c " style="top:54px;right:483px;">84</span>
<span class="c " style="top:70px;left:217.0px;">5.31 g/m³</span>
<span class="c b" style="top:70px;right:483px;">88</span>
<span class="c b" style="top:6px;left:329.5px;">Luftdruck</span>
<span class="c b" style="top:6px;right:365px;">hPa</span>
<span class="c " style="top:22px;left:335.0px;">15:56</span>
<span class="c " style="top:22px;right:365px;">997.8</span>
<span class="c " style="top:38px;left:335.0px;">00:35</span>
<span class="c " style="top:38px;right:365px;">1007.9</span>
<span class="c " style="top:54px;left:330.0px;">^2.0hPa/h</span>
<span class="c " style="top:54px;right:365px;">1001.5</span>
<span class="c " style="top:70px;left:335.0px;">rückläufig</span>
<span class="c b" style="top:70px;right:365px;">1003.0</span>
<span class="c b" style="top:6px;left:447.5px;">Wind</span>
<span class="c b" style="top:6px;right:247px;">km/h</span>
<span class="c " style="top:22px;left:448.0px;letter-spacing:-0.30px;">Ø 10 min.</span>
<span class="c " style="top:22px;right:247px;">0.0</span>
<span class="c " style="top:38px;left:453.0px;">09:16</span>
<span class="c " style="top:38px;right:247px;">W-SW 21.5</span>
<span class="c " style="top:54px;right:247px;">5.4</span>
<span class="c " style="top:70px;left:453.0px;">0 Bft</span>
<span class="c b" style="top:70px;right:247px;">0.0</span>
<span class="c b" style="top:6px;left:565.5px;letter-spacing:0.70px;">Regen</span>
<span class="c b" style="top:6px;right:129px;">l/m²</span>
<span class="c " style="top:38px;left:571.0px;">13:15</span>
<span class="c " style="top:38px;right:129px;">0.4</span>
<span class="c " style="top:54px;left:566.0px;letter-spacing:-0.50px;">Gesamt:</span>
<span class="c " style="top:54px;right:129px;">2.8</span>
<span class="c " style="top:70px;left:571.0px;">3.0 l/m²</span>
<span class="c b" style="top:70px;right:129px;">0.0</span>
<span class="c b" style="top:6px;left:684.0px;letter-spacing:0.70px;">PMV-1:3</span>
<span class="c " style="top:22px;left:684.0px;letter-spacing:-0.70px;">WC 2.7 °C</span>
<span class="c " style="top:38px;left:684.0px;letter-spacing:-0.45px;">TP 1.2 °C</span>
<span class="c " style="top:54px;left:684.0px;">1.1hPa/3h</span>
<span class="c " style="top:70px;left:684.0px;">0.0hPa/1h</span>
<i class="ic" style="left:385px;top:72px"><u></u></i>
</div><div id="tblr"></div>
</body>
</html>
